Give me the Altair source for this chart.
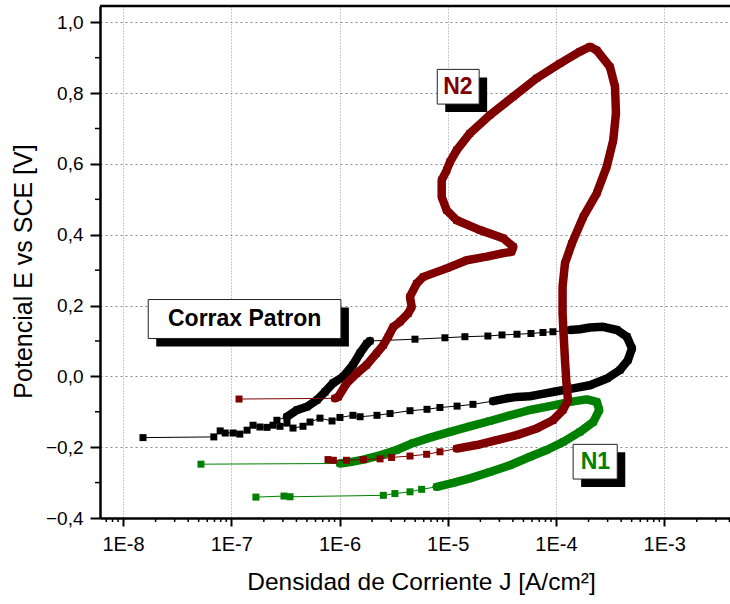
import altair as alt
import pandas as pd

# ---------------- data ----------------
# Corrax Patron (black)
black_J = [1.53e-8, 6.9e-8, 7.9e-8, 8.8e-8, 1.04e-7, 1.20e-7, 1.40e-7, 1.59e-7, 1.84e-7, 2.14e-7,
           2.43e-7, 2.82e-7, 3.27e-7, 3.72e-7, 4.60e-7, 5.34e-7, 6.6e-7, 8.53e-7, 1.01e-6, 1.33e-6,
           1.55e-6, 2.22e-6, 2.93e-6, 4.48e-6, 6.43e-6, 8.47e-6, 1.22e-5, 1.71e-5,
           2.62e-5, 3.52e-5, 4.36e-5, 5.75e-5, 7.11e-5, 1.02e-4, 1.44e-4, 2.06e-4, 2.96e-4, 3.90e-4,
           4.62e-4, 5.03e-4, 4.52e-4, 3.66e-4, 2.72e-4, 2.06e-4, 1.66e-4, 1.35e-4,
           9.37e-5, 7.58e-5, 5.87e-5, 4.36e-5, 3.17e-5, 2.35e-5, 1.44e-5, 9.42e-6, 4.98e-6,
           1.91e-6, 1.79e-6, 1.55e-6, 1.33e-6, 1.08e-6, 8.71e-7, 7.34e-7, 6.19e-7, 5.01e-7, 4.05e-7,
           3.27e-7, 2.64e-7]
black_E = [-0.173, -0.171, -0.154, -0.160, -0.160, -0.163, -0.152, -0.138, -0.143, -0.144,
           -0.138, -0.141, -0.132, -0.146, -0.141, -0.129, -0.118, -0.126, -0.116, -0.110,
           -0.114, -0.110, -0.105, -0.097, -0.093, -0.088, -0.084, -0.079,
           -0.070, -0.062, -0.058, -0.056, -0.051, -0.042, -0.034, -0.025, -0.006, 0.018,
           0.046, 0.079, 0.112, 0.131, 0.140, 0.138, 0.133, 0.131,
           0.126, 0.124, 0.121, 0.119, 0.117, 0.114, 0.112, 0.109, 0.105,
           0.100, 0.093, 0.066, 0.032, -0.001, -0.019, -0.044, -0.067, -0.086, -0.095,
           -0.114, -0.124]
black_dense = [0] * 28 + [1] * 18 + [0] * 9 + [2] * 11 + [0]

# N2 (dark red)
red_J = [1.18e-7, 9.08e-7, 9.75e-7, 1.16e-6, 1.44e-6, 1.78e-6, 2.20e-6, 2.54e-6, 2.82e-6, 3.14e-6,
         3.62e-6, 4.32e-6, 4.64e-6, 4.48e-6, 5.16e-6, 5.94e-6, 9.77e-6, 1.50e-5, 2.29e-5, 3.26e-5,
         3.89e-5, 4.03e-5, 3.26e-5, 1.99e-5, 1.21e-5, 9.77e-6, 8.79e-6, 8.79e-6, 9.77e-6, 1.05e-5,
         1.21e-5, 1.60e-5, 2.45e-5, 4.03e-5, 6.63e-5, 1.09e-4, 1.66e-4, 2.06e-4, 2.38e-4, 3.15e-4,
         3.51e-4, 3.58e-4, 3.38e-4, 2.94e-4, 2.38e-4, 1.79e-4, 1.40e-4, 1.21e-4, 1.15e-4, 1.15e-4,
         1.17e-4, 1.21e-4, 1.25e-4, 1.29e-4, 1.16e-4, 9.37e-5, 6.63e-5, 4.33e-5, 2.83e-5, 1.85e-5,
         1.21e-5,
         8.47e-6, 6.38e-6, 4.48e-6, 3.03e-6, 2.37e-6, 1.66e-6, 1.16e-6, 8.77e-7, 7.83e-7]
red_E = [-0.064, -0.062, -0.058, -0.020, 0.008, 0.032, 0.065, 0.088, 0.112, 0.140,
         0.154, 0.178, 0.196, 0.225, 0.262, 0.281, 0.305, 0.328, 0.338, 0.348,
         0.352, 0.366, 0.390, 0.413, 0.441, 0.469, 0.507, 0.554, 0.582, 0.606,
         0.639, 0.686, 0.738, 0.790, 0.842, 0.884, 0.917, 0.931, 0.921, 0.874,
         0.818, 0.743, 0.667, 0.592, 0.517, 0.451, 0.375, 0.319, 0.253, 0.178,
         0.131, 0.046, -0.020, -0.067, -0.095, -0.124, -0.147, -0.166, -0.180, -0.194,
         -0.204,
         -0.213, -0.220, -0.225, -0.229, -0.233, -0.235, -0.237, -0.237, -0.235]
red_dense = [0] + [1] * 60 + [0] * 9

# N1 (green)
green_J = [1.69e-7, 3.07e-7, 3.49e-7, 2.54e-6, 3.25e-6, 4.48e-6, 5.74e-6,
           7.90e-6, 1.12e-5, 1.60e-5, 2.45e-5, 3.76e-5, 5.75e-5, 8.20e-5, 1.17e-4, 1.66e-4, 2.21e-4,
           2.51e-4, 2.38e-4, 1.92e-4, 1.35e-4, 8.79e-5, 5.75e-5, 3.76e-5, 2.45e-5, 1.60e-5, 1.05e-5,
           6.85e-6, 4.81e-6, 3.37e-6, 2.37e-6, 1.66e-6, 1.25e-6, 1.01e-6,
           5.25e-8]
green_E = [-0.341, -0.338, -0.340, -0.336, -0.331, -0.326, -0.319,
           -0.312, -0.301, -0.288, -0.270, -0.251, -0.227, -0.208, -0.185, -0.157, -0.129,
           -0.095, -0.072, -0.065, -0.072, -0.084, -0.095, -0.110, -0.126, -0.141, -0.157,
           -0.173, -0.188, -0.208, -0.223, -0.235, -0.242, -0.246,
           -0.248]
green_dense = [0] * 7 + [1] * 27 + [0]

# axis ticks
x_major = [1e-8, 1e-7, 1e-6, 1e-5, 1e-4, 1e-3]
x_minor = [7e-9, 8e-9, 9e-9,
           2e-8, 3e-8, 4e-8, 5e-8, 6e-8, 7e-8, 8e-8, 9e-8,
           2e-7, 3e-7, 4e-7, 5e-7, 6e-7, 7e-7, 8e-7, 9e-7,
           2e-6, 3e-6, 4e-6, 5e-6, 6e-6, 7e-6, 8e-6, 9e-6,
           2e-5, 3e-5, 4e-5, 5e-5, 6e-5, 7e-5, 8e-5, 9e-5,
           2e-4, 3e-4, 4e-4, 5e-4, 6e-4, 7e-4, 8e-4, 9e-4,
           2e-3, 3e-3, 4e-3]
y_major = [-0.4, -0.2, 0.0, 0.2, 0.4, 0.6, 0.8, 1.0]
y_minor = [-0.3, -0.1, 0.1, 0.3, 0.5, 0.7, 0.9]

# annotation labels
lab_text = ["Corrax Patron", "N2", "N1"]
lab_color = ["#000000", "#800000", "#008000"]
lab_J = [1.33e-7, 1.24e-5, 2.31e-4]
lab_E = [0.162, 0.818, -0.241]
box_J1 = [1.71e-8, 8.0e-6, 1.44e-4]
box_J2 = [1.03e-6, 1.95e-5, 3.68e-4]
box_E1 = [0.107, 0.769, -0.290]
box_E2 = [0.217, 0.867, -0.192]

# ---------------- chart ----------------
FONT = "Liberation Sans"
W, H = 630, 512
xs = alt.Scale(type="log", domain=[6.13e-9, 4.05e-3], nice=False)
ys = alt.Scale(domain=[-0.4, 1.046], nice=False, zero=False)

XT = "Densidad de Corriente J [A/cm²]"
YT = "Potencial E vs SCE [V]"

xaxis = alt.Axis(values=x_major, labelExpr="'1E' + round(log(datum.value)/LN10)",
                 tickSize=8, tickWidth=2, tickColor="black",
                 domainColor="black", domainWidth=2.5,
                 labelFont=FONT, labelFontSize=20, labelColor="black", labelPadding=8,
                 labelOverlap=False, labelFlush=False,
                 grid=True, gridColor="#999999", gridDash=[1, 2], gridWidth=1,
                 title=XT, titleFont=FONT, titleFontSize=24.5,
                 titleFontWeight="normal", titleColor="black",
                 titleBaseline="alphabetic", titleY=71, titleX=321)
yaxis = alt.Axis(values=y_major, labelExpr="replace(format(datum.value, '.1f'), '.', ',')",
                 tickSize=10, tickWidth=2, tickColor="black",
                 domainColor="black", domainWidth=2.5,
                 labelFont=FONT, labelFontSize=19, labelColor="black", labelPadding=7,
                 labelOverlap=False, labelFlush=False,
                 grid=True, gridColor="#888888", gridDash=[2, 3], gridWidth=1,
                 title=YT, titleFont=FONT, titleFontSize=25,
                 titleFontWeight="normal", titleColor="black",
                 titleAngle=270, titleBaseline="alphabetic", titleX=-69, titleY=265)


def X(field="J"):
    return alt.X(f"{field}:Q", scale=xs, axis=xaxis, title=XT)


def Y(field="E"):
    return alt.Y(f"{field}:Q", scale=ys, axis=yaxis, title=YT)


def sdf(J, E, dense):
    return pd.DataFrame({"J": J, "E": E, "dense": dense, "order": list(range(len(J)))})


def series_layers(df, color):
    thin = alt.Chart(df).mark_line(color=color, strokeWidth=1).encode(
        x=X(), y=Y(), order="order:Q")
    thick = alt.Chart(df).transform_filter("datum.dense > 0").mark_line(
        color=color, strokeWidth=8.5, strokeCap="round", strokeJoin="round").encode(
        x=X(), y=Y(), order="order:Q", detail="dense:N")
    pts = alt.Chart(df).mark_square(color=color, size=49, opacity=1).encode(x=X(), y=Y())
    return [thin, thick, pts]


layers = []
layers += series_layers(sdf(black_J, black_E, black_dense), "#000000")
layers += series_layers(sdf(green_J, green_E, green_dense), "#008000")
layers += series_layers(sdf(red_J, red_E, red_dense), "#800000")

xminor = alt.Chart(pd.DataFrame({"J": x_minor})).mark_rule(color="black", strokeWidth=1.5).encode(
    x=X(), y=alt.value(H), y2=alt.value(H + 4))
yminor = alt.Chart(pd.DataFrame({"E": y_minor})).mark_rule(color="black", strokeWidth=1.5).encode(
    y=Y(), x=alt.value(0), x2=alt.value(-5))
topline = alt.Chart(pd.DataFrame({"a": [0]})).mark_rule(color="black", strokeWidth=2.5).encode(
    x=alt.value(0), x2=alt.value(W), y=alt.value(0))

box_df = pd.DataFrame({"J": box_J1, "J2": box_J2, "E": box_E1, "E2": box_E2})
shadow = alt.Chart(box_df).mark_rect(color="black", xOffset=8, x2Offset=8, yOffset=8, y2Offset=8).encode(
    x=X(), x2="J2:Q", y=Y(), y2="E2:Q")
box = alt.Chart(box_df).mark_rect(fill="white", stroke="#222222", strokeWidth=1).encode(
    x=X(), x2="J2:Q", y=Y(), y2="E2:Q")
lab_df = pd.DataFrame({"J": lab_J, "E": lab_E, "label": lab_text, "color": lab_color})
text = alt.Chart(lab_df).mark_text(font=FONT, fontSize=23, fontWeight="bold",
                                   align="center", baseline="middle").encode(
    x=X(), y=Y(), text="label:N", color=alt.Color("color:N", scale=None))

layers += [xminor, yminor, topline, shadow, box, text]

chart = alt.layer(*layers).properties(
    width=W, height=H,
    autosize=alt.AutoSizeParams(type="none"),
    padding={"left": 100, "top": 6, "right": 0, "bottom": 86},
    background="white",
).configure_view(stroke=None)

chart.save("out.html", embed_options={"renderer": "svg", "actions": False})
